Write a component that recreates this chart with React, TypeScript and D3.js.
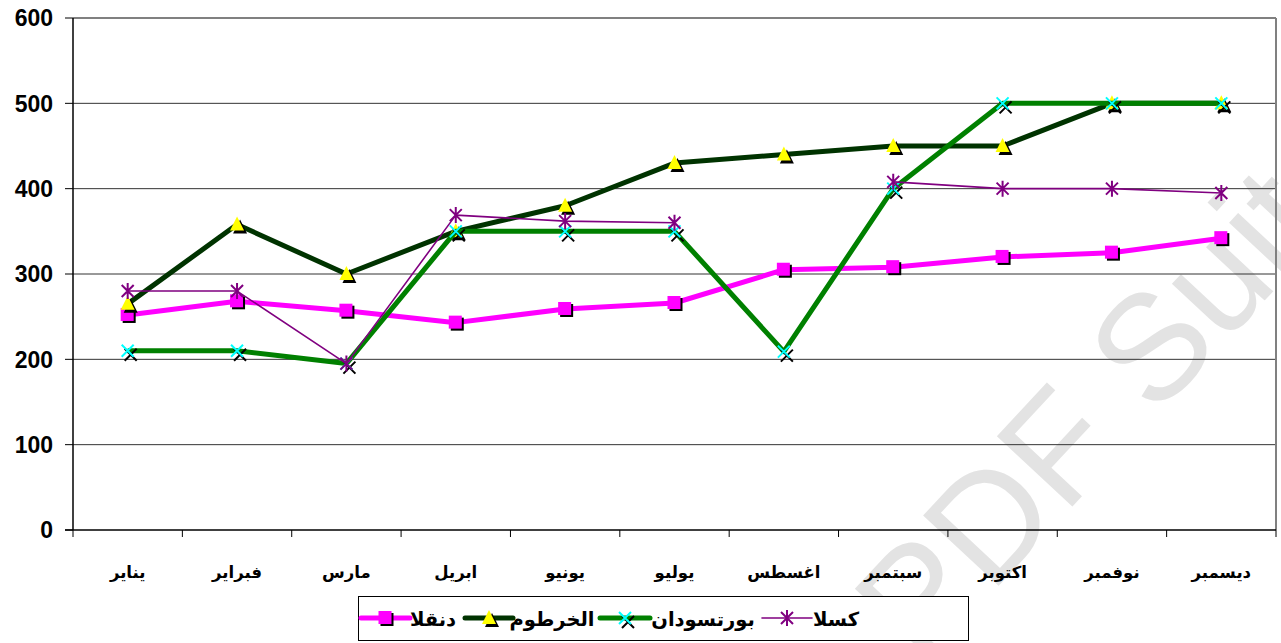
import * as d3 from "d3"

const months = ["يناير", "فبراير", "مارس", "ابريل", "يونيو", "يوليو", "اغسطس", "سبتمبر", "اكتوبر", "نوفمبر", "ديسمبر"]
const dongola = [252, 268, 257, 243, 259, 266, 305, 308, 320, 325, 342]
const khartoum = [265, 358, 300, 350, 380, 430, 440, 450, 450, 500, 500]
const portSudan = [210, 210, 195, 350, 350, 350, 209, 400, 500, 500, 500]
const kassala: (number | null)[] = [280, 280, 195, 369, 362, 360, null, 408, 400, 400, 395]
const yTicks = [0, 100, 200, 300, 400, 500, 600]

const W = 1281
const H = 643
const left = 73
const right = 1276
const top = 18
const bottom = 530
const font = "'Liberation Sans', Arial, 'DejaVu Sans', sans-serif"

type Marker = "square" | "triangle" | "x" | "star"

const series = [
  { name: "دنقلا", values: dongola, color: "#ff00ff", width: 5, marker: "square" as Marker },
  { name: "الخرطوم", values: khartoum, color: "#003300", width: 5, marker: "triangle" as Marker },
  { name: "بورتسودان", values: portSudan, color: "#008000", width: 5, marker: "x" as Marker },
  { name: "كسلا", values: kassala, color: "#800080", width: 1.6, marker: "star" as Marker },
]

// legend slots: symbol start, symbol end, text centre
const legendSlots = [
  [361, 410, 433],
  [465, 513, 552],
  [600, 650, 703],
  [762, 812, 836],
]

function drawMarker(m: Marker, x: number, y: number, key: string) {
  if (m === "square") {
    return (
      <g key={key}>
        <rect x={x - 5} y={y - 5} width={13} height={13} fill="#000" />
        <rect x={x - 7} y={y - 7} width={13} height={13} fill="#ff00ff" />
      </g>
    )
  }
  if (m === "triangle") {
    const tri = (dx: number, dy: number) =>
      `M${x + dx},${y - 8 + dy}L${x + 7 + dx},${y + 6 + dy}L${x - 7 + dx},${y + 6 + dy}Z`
    return (
      <g key={key}>
        <path d={tri(3, 3)} fill="#000" />
        <path d={tri(0, 0)} fill="#ffff00" />
      </g>
    )
  }
  if (m === "x") {
    const cross = (dx: number, dy: number) =>
      `M${x - 6 + dx},${y - 6 + dy}L${x + 6 + dx},${y + 6 + dy}M${x + 6 + dx},${y - 6 + dy}L${x - 6 + dx},${y + 6 + dy}`
    return (
      <g key={key}>
        <path d={cross(3, 4)} stroke="#000" strokeWidth={2} fill="none" />
        <path d={cross(0, 0)} stroke="#00ffff" strokeWidth={2} fill="none" />
      </g>
    )
  }
  return (
    <path
      key={key}
      d={`M${x - 6},${y - 6}L${x + 6},${y + 6}M${x + 6},${y - 6}L${x - 6},${y + 6}M${x},${y - 8}L${x},${y + 8}`}
      stroke="#800080"
      strokeWidth={2}
      fill="none"
    />
  )
}

export default function App() {
  const x = d3.scaleBand<string>().domain(months).range([left, right])
  const y = d3.scaleLinear().domain([0, 600]).range([bottom, top])
  const cx = (i: number) => (x(months[i]) as number) + x.bandwidth() / 2

  const line = d3
    .line<number | null>()
    .defined((d) => d !== null)
    .x((_, i) => cx(i))
    .y((d) => y(d as number))

  const boundaries = months.map((m) => x(m) as number).concat([right])

  return (
    <svg width={W} height={H} style={{ position: "absolute", left: 0, top: 0, background: "#fff" }}>
      <rect width={W} height={H} fill="#fff" />
      {/* watermark */}
      <text
        transform="translate(922,668) rotate(-47)"
        fontFamily={font}
        fontSize={150}
        fill="#e3e3e3"
      >
        PDF Suite
      </text>

      {/* gridlines */}
      {yTicks.slice(1, -1).map((t) => (
        <line key={t} x1={left} x2={right} y1={y(t)} y2={y(t)} stroke="#333" strokeWidth={1} />
      ))}
      {/* frame top/right */}
      <line x1={left} x2={right} y1={y(600)} y2={y(600)} stroke="#808080" strokeWidth={2} />
      <line x1={right} x2={right} y1={y(600)} y2={bottom} stroke="#808080" strokeWidth={2} />

      {/* y axis */}
      <line x1={left} x2={left} y1={top} y2={bottom} stroke="#000" strokeWidth={1.5} />
      {yTicks.map((t) => (
        <g key={t}>
          <line x1={65} x2={left} y1={y(t)} y2={y(t)} stroke="#000" strokeWidth={1} />
          <text
            x={53}
            y={y(t)}
            dy="0.36em"
            textAnchor="end"
            fontFamily={font}
            fontWeight="bold"
            fontSize={23}
          >
            {t}
          </text>
        </g>
      ))}

      {/* x axis */}
      <line x1={65} x2={right} y1={bottom} y2={bottom} stroke="#000" strokeWidth={1.5} />
      {boundaries.map((b, i) => (
        <line key={i} x1={b} x2={b} y1={bottom} y2={bottom + 7} stroke="#000" strokeWidth={1} />
      ))}
      {months.map((m, i) => (
        <text
          key={m}
          x={cx(i)}
          y={578}
          textAnchor="middle"
          fontFamily={font}
          fontWeight="bold"
          fontSize={16.5}
        >
          {m}
        </text>
      ))}

      {/* series */}
      {series.map((s, si) => (
        <g key={s.name}>
          <path d={line(s.values) || ""} fill="none" stroke={s.color} strokeWidth={s.width} strokeLinejoin="round" />
          {s.values.map((v, i) => (v === null ? null : drawMarker(s.marker, cx(i), y(v), `${si}-${i}`)))}
        </g>
      ))}

      {/* legend */}
      <rect x={358.5} y={596.5} width={610} height={44} fill="#fff" stroke="#000" strokeWidth={1} />
      {series.map((s, i) => {
        const [a, b, tc] = legendSlots[i]
        return (
          <g key={s.name}>
            <line x1={a} x2={b} y1={618} y2={618} stroke={s.color} strokeWidth={s.width} strokeLinecap="round" />
            {drawMarker(s.marker, (a + b) / 2, 618, `lg-${i}`)}
            <text
              x={tc}
              y={626}
              textAnchor="middle"
              fontFamily={font}
              fontWeight="bold"
              fontSize={19.5}
            >
              {s.name}
            </text>
          </g>
        )
      })}
    </svg>
  )
}
